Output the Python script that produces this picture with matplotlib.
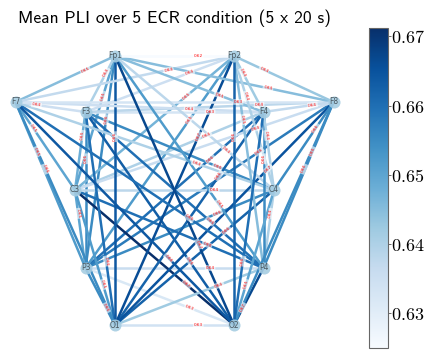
"""Mean phase-lag-index network drawn on a 10-20 electrode layout."""

import numpy as np
import matplotlib.pyplot as plt
from matplotlib import cm, colors
from matplotlib.collections import LineCollection

plt.rcParams["mathtext.fontset"] = "cm"

# electrode order used for the edge list, and 2-D layout positions
CHANNELS = ["P3", "C3", "F3", "O1", "F7", "Fp1", "P4", "C4", "F4", "O2", "F8", "Fp2"]
POS_X = [-0.89, -0.995, -0.89, -0.595, -1.59, -0.595, 0.89, 0.995, 0.89, 0.595, 1.59, 0.595]
POS_Y = [-0.78, 0.0, 0.78, -1.35, 0.88, 1.34, -0.78, 0.0, 0.78, -1.35, 0.88, 1.34]

# mean PLI per electrode pair
EDGES = [
    ("P3", "C3", 0.650), ("P3", "F3", 0.655), ("P3", "O1", 0.655), ("P3", "F7", 0.652),
    ("P3", "Fp1", 0.655), ("P3", "P4", 0.636), ("P3", "C4", 0.655), ("P3", "F4", 0.660),
    ("P3", "O2", 0.632), ("P3", "F8", 0.658), ("P3", "Fp2", 0.652),
    ("C3", "F3", 0.648), ("C3", "O1", 0.652), ("C3", "F7", 0.650), ("C3", "Fp1", 0.650),
    ("C3", "P4", 0.660), ("C3", "C4", 0.638), ("C3", "F4", 0.640), ("C3", "O2", 0.6712),
    ("C3", "F8", 0.636), ("C3", "Fp2", 0.647),
    ("F3", "O1", 0.660), ("F3", "F7", 0.635), ("F3", "Fp1", 0.640), ("F3", "P4", 0.660),
    ("F3", "C4", 0.655), ("F3", "F4", 0.633), ("F3", "O2", 0.663), ("F3", "F8", 0.638),
    ("F3", "Fp2", 0.635),
    ("O1", "F7", 0.655), ("O1", "Fp1", 0.664), ("O1", "P4", 0.642), ("O1", "C4", 0.662),
    ("O1", "F4", 0.662), ("O1", "O2", 0.634), ("O1", "F8", 0.665), ("O1", "Fp2", 0.666),
    ("F7", "Fp1", 0.645), ("F7", "P4", 0.660), ("F7", "C4", 0.640), ("F7", "F4", 0.635),
    ("F7", "O2", 0.664), ("F7", "F8", 0.633), ("F7", "Fp2", 0.637),
    ("Fp1", "P4", 0.652), ("Fp1", "C4", 0.638), ("Fp1", "F4", 0.645), ("Fp1", "O2", 0.667),
    ("Fp1", "F8", 0.645), ("Fp1", "Fp2", 0.625),
    ("P4", "C4", 0.640), ("P4", "F4", 0.655), ("P4", "O2", 0.667), ("P4", "F8", 0.655),
    ("P4", "Fp2", 0.645),
    ("C4", "F4", 0.640), ("C4", "O2", 0.650), ("C4", "F8", 0.655), ("C4", "Fp2", 0.640),
    ("F4", "O2", 0.660), ("F4", "F8", 0.637), ("F4", "Fp2", 0.642),
    ("O2", "F8", 0.655), ("O2", "Fp2", 0.662),
    ("F8", "Fp2", 0.643),
]

TITLE = "Mean PLI over 5 ECR condition (5 x 20 s)"
LABEL_POS = 0.3

pos = {ch: (x, y) for ch, x, y in zip(CHANNELS, POS_X, POS_Y)}
weights = np.array([w for _, _, w in EDGES])
norm = colors.Normalize(vmin=weights.min(), vmax=weights.max())
cmap = plt.get_cmap("Blues")

fig = plt.figure(figsize=(4.24, 3.51), dpi=100)
W, H = 424, 351
ax = fig.add_axes([0, 0, 349 / W, 318 / H])
ax.set_xlim(-1.745, 1.745)
ax.set_ylim(-1.61, 1.57)
ax.axis("off")

segments = [(pos[u], pos[v]) for u, v, _ in EDGES]
lc = LineCollection(segments, colors=cmap(norm(weights)), linewidths=1.8, zorder=1)
ax.add_collection(lc)

# edge labels, placed along each edge and rotated with it
for (u, v, w) in EDGES:
    (x1, y1), (x2, y2) = pos[u], pos[v]
    x = x1 * LABEL_POS + x2 * (1 - LABEL_POS)
    y = y1 * LABEL_POS + y2 * (1 - LABEL_POS)
    angle = np.degrees(np.arctan2(y2 - y1, x2 - x1))
    if angle > 90:
        angle -= 180
    if angle < -90:
        angle += 180
    ax.text(x, y, f"{w:.2f}", fontsize=3, color="red", rotation=angle,
            rotation_mode="anchor", ha="center", va="center", zorder=1,
            bbox=dict(boxstyle="round,pad=0.2", ec="none", fc="white", alpha=0.6))

ax.scatter(POS_X, POS_Y, s=75, color="#a6cde2", alpha=0.9, zorder=2, linewidths=0)
for ch in CHANNELS:
    ax.text(*pos[ch], ch, fontsize=5.5, color="#4a5860", ha="center", va="center", zorder=3)

ax.set_title(TITLE, fontfamily="cmss10", fontsize=12.6, pad=7)

cax = fig.add_axes([369 / W, 3 / H, 19 / W, 320 / H])
sm = cm.ScalarMappable(norm=norm, cmap=cmap)
cbar = fig.colorbar(sm, cax=cax)
cbar.set_ticks([0.63, 0.64, 0.65, 0.66, 0.67])
cbar.ax.yaxis.set_major_formatter(plt.FuncFormatter(lambda v, _: f"${v:.2f}$"))
cbar.ax.tick_params(labelsize=13, length=2, width=0.6, pad=0.5, color="#555555")
cbar.outline.set_edgecolor("#666666")
cbar.outline.set_linewidth(0.8)

fig.savefig("out.png", dpi=100)
